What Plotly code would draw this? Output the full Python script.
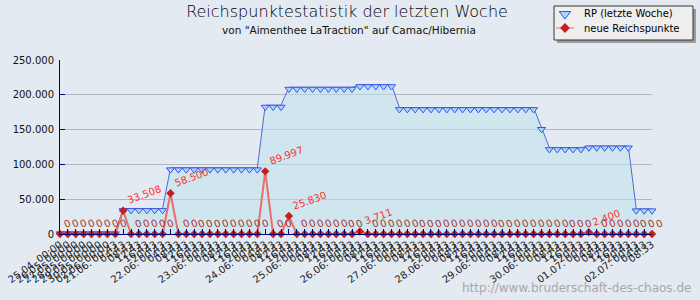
import plotly.graph_objects as go

# ---------------- data ----------------
tick_labels = [
    "25.04. 00:00", "26.05. 00:00", "27.05. 00:00", "28.05. 00:00",
    "29.05. 00:00", "30.05. 00:00", "02.06. 00:00", "21.06. 00:43",
    "04:43", "08:43", "12:43", "16:43", "20:43",
    "22.06. 00:43", "04:43", "08:43", "12:43", "16:43", "20:43",
    "23.06. 00:43", "04:43", "08:43", "12:43", "16:43", "20:43",
    "24.06. 00:43", "04:43", "08:43", "12:43", "16:43", "20:43",
    "25.06. 00:43", "04:43", "08:43", "12:43", "16:43", "20:43",
    "26.06. 00:43", "04:43", "08:43", "12:43", "16:43", "20:43",
    "27.06. 00:43", "04:43", "08:43", "12:43", "16:43", "20:43",
    "28.06. 00:43", "04:43", "08:43", "12:43", "16:43", "20:43",
    "29.06. 00:43", "04:43", "08:43", "12:43", "16:43", "20:43",
    "30.06. 00:43", "04:43", "08:43", "12:43", "16:43", "20:43",
    "01.07. 00:43", "04:43", "08:43", "12:43", "16:43", "20:43",
    "02.07. 00:43", "04:43", "08:33",
]

rp_values = [
    3000, 3000, 3000, 3000, 3000, 3000, 3000, 3000,
    36500, 36500, 36500, 36500, 36500, 36500,
    95000, 95000, 95000, 95000, 95000, 95000, 95000, 95000, 95000, 95000, 95000, 95000,
    185000, 185000, 185000,
    210800, 210800, 210800, 210800, 210800, 210800, 210800, 210800, 210800,
    214500, 214500, 214500, 214500, 214500,
    181500, 181500, 181500, 181500, 181500, 181500, 181500, 181500, 181500,
    181500, 181500, 181500, 181500, 181500, 181500, 181500, 181500, 181500,
    153000,
    124000, 124000, 124000, 124000, 124000,
    126400, 126400, 126400, 126400, 126400, 126400,
    36000, 36000, 36000,
]

new_values = [0] * 76
new_values[8] = 33508
new_values[14] = 58500
new_values[26] = 89997
new_values[29] = 25830
new_values[38] = 3711
new_values[67] = 2400

y_ticks = [0, 50000, 100000, 150000, 200000, 250000]
y_tick_text = ["0", "50.000", "100.000", "150.000", "200.000", "250.000"]

series_names = ["RP (letzte Woche)", "neue Reichspunkte"]
title_text = "Reichspunktestatistik der letzten Woche"
subtitle_text = 'von "Aimenthee LaTraction" auf Camac/Hibernia'
watermark = "http://www.bruderschaft-des-chaos.de"

# ---------------- geometry (pixels) ----------------
W, H = 700, 300
PL, PR, PT, PB = 60, 652, 60, 234          # plot area edges
LG_L, LG_R, LG_T, LG_B = 554, 693, 6, 40   # legend box
Y_MAX = 250000
px_per_unit = (PB - PT) / Y_MAX

def fmt(v):
    return f"{v:,}".replace(",", ".")

def fx(px):
    return px / W

def fy(py):
    return 1 - py / H

x = list(range(len(rp_values)))
FONT = "DejaVu Sans"
BLUE_LINE = "#5468d8"
TRI_FILL = "#a9d6f5"
TRI_EDGE = "#3a55e8"
RED_LINE = "#e86e6e"
RED_MARK = "#c41e1e"
NAVY = "#00007a"

fig = go.Figure()

# RP area + line
fig.add_trace(go.Scatter(
    x=x, y=rp_values, mode="lines", fill="tozeroy",
    fillcolor="rgba(190,226,236,0.55)",
    line=dict(color=BLUE_LINE, width=1),
    showlegend=False, hoverinfo="skip",
))
# RP markers (top edge of the down-triangle sits on the line)
tri_size = 7
shift = (tri_size / 4) / px_per_unit
fig.add_trace(go.Scatter(
    x=x, y=[v - shift for v in rp_values], mode="markers",
    marker=dict(symbol="triangle-down", size=tri_size, color=TRI_FILL,
                line=dict(color=TRI_EDGE, width=1)),
    showlegend=False, hoverinfo="skip", cliponaxis=False,
))
# neue Reichspunkte
fig.add_trace(go.Scatter(
    x=x, y=new_values, mode="lines+markers",
    line=dict(color=RED_LINE, width=2),
    marker=dict(symbol="diamond", size=6.5, color=RED_MARK),
    showlegend=False, hoverinfo="skip", cliponaxis=False,
))

# ----- legend (drawn in its own small axes) -----
lg_cx = 565
lg_rows = [14, 28]
fig.add_trace(go.Scatter(
    x=[lg_cx], y=[lg_rows[0]], xaxis="x2", yaxis="y2", mode="markers",
    marker=dict(symbol="triangle-down", size=10, color=TRI_FILL,
                line=dict(color=TRI_EDGE, width=1)),
    showlegend=False, hoverinfo="skip", cliponaxis=False,
))
fig.add_trace(go.Scatter(
    x=[556, lg_cx, 574], y=[lg_rows[1]] * 3, xaxis="x2", yaxis="y2",
    mode="lines", line=dict(color=RED_LINE, width=1),
    showlegend=False, hoverinfo="skip", cliponaxis=False,
))
fig.add_trace(go.Scatter(
    x=[lg_cx], y=[lg_rows[1]], xaxis="x2", yaxis="y2", mode="markers",
    marker=dict(symbol="diamond", size=7.5, color=RED_MARK),
    showlegend=False, hoverinfo="skip", cliponaxis=False,
))

annotations = []
for i, v in enumerate(new_values):
    annotations.append(dict(
        x=i, y=v, xref="x", yref="y", text=fmt(v), showarrow=False,
        xanchor="left", yanchor="bottom", xshift=0, yshift=2,
        textangle=-20,
        font=dict(family=FONT, size=10, color="#ff2e2e" if v else "#a83030"),
    ))

for name, row in zip(series_names, lg_rows):
    annotations.append(dict(
        x=fx(582), y=fy(row), xref="paper", yref="paper", text=name,
        showarrow=False, xanchor="left", yanchor="middle",
        font=dict(family=FONT, size=10, color="#000000"),
    ))

annotations.append(dict(
    x=fx(349), y=fy(30), xref="paper", yref="paper",
    text=subtitle_text, showarrow=False, xanchor="center", yanchor="middle",
    font=dict(family=FONT, size=10.5, color="#111111"),
))
annotations.append(dict(
    x=fx(693), y=fy(288), xref="paper", yref="paper",
    text=watermark, showarrow=False, xanchor="right", yanchor="middle",
    font=dict(family=FONT, size=12, color="#a8a8a8"),
))

shapes = [
    dict(type="rect", xref="paper", yref="paper", layer="below",
         x0=fx(LG_L + 3), x1=fx(LG_R + 3), y0=fy(LG_B + 3), y1=fy(LG_T + 3),
         fillcolor="#9c9c9c", line=dict(width=0)),
    dict(type="rect", xref="paper", yref="paper", layer="below",
         x0=fx(LG_L), x1=fx(LG_R), y0=fy(LG_B), y1=fy(LG_T),
         fillcolor="#eeeeee", line=dict(color="#333333", width=1)),
]

fig.update_layout(
    width=W, height=H,
    margin=dict(l=0, r=0, t=0, b=0, pad=0, autoexpand=False),
    paper_bgcolor="#e4eaf2", plot_bgcolor="rgba(0,0,0,0)",
    font=dict(family=FONT, size=10, color="#000000"),
    showlegend=False,
    title=dict(text=title_text, xref="paper", yref="paper",
               x=fx(347), y=fy(11), xanchor="center", yanchor="middle",
               font=dict(family=FONT, size=16, color="#000000", weight=200)),
    annotations=annotations,
    shapes=shapes,
    xaxis=dict(domain=[fx(PL), fx(PR)], range=[0, len(x) - 1],
               tickmode="array", tickvals=x, automargin=False,
               ticktext=tick_labels, tickangle=-36, ticks="inside", ticklen=5,
               tickcolor=NAVY, showline=True, linecolor=NAVY,
               linewidth=1, showgrid=False, zeroline=False,
               layer="above traces", tickfont=dict(size=10, color="#222222")),
    yaxis=dict(domain=[fy(PB), fy(PT)], range=[0, Y_MAX],
               tickmode="array", tickvals=y_ticks, automargin=False,
               ticktext=y_tick_text, ticks="inside", ticklen=5,
               tickcolor=NAVY, showline=True, linecolor=NAVY,
               linewidth=1, showgrid=True, gridcolor="#b2b6be", gridwidth=1,
               zeroline=False, layer="above traces", ticklabelstandoff=3,
               tickfont=dict(size=10, color="#111111")),
    xaxis2=dict(domain=[fx(LG_L), fx(LG_R)], range=[LG_L, LG_R],
                visible=False, fixedrange=True, anchor="y2", automargin=False),
    yaxis2=dict(domain=[fy(LG_B), fy(LG_T)], range=[LG_B, LG_T],
                visible=False, fixedrange=True, anchor="x2", automargin=False),
)

fig.write_html("out.html")
